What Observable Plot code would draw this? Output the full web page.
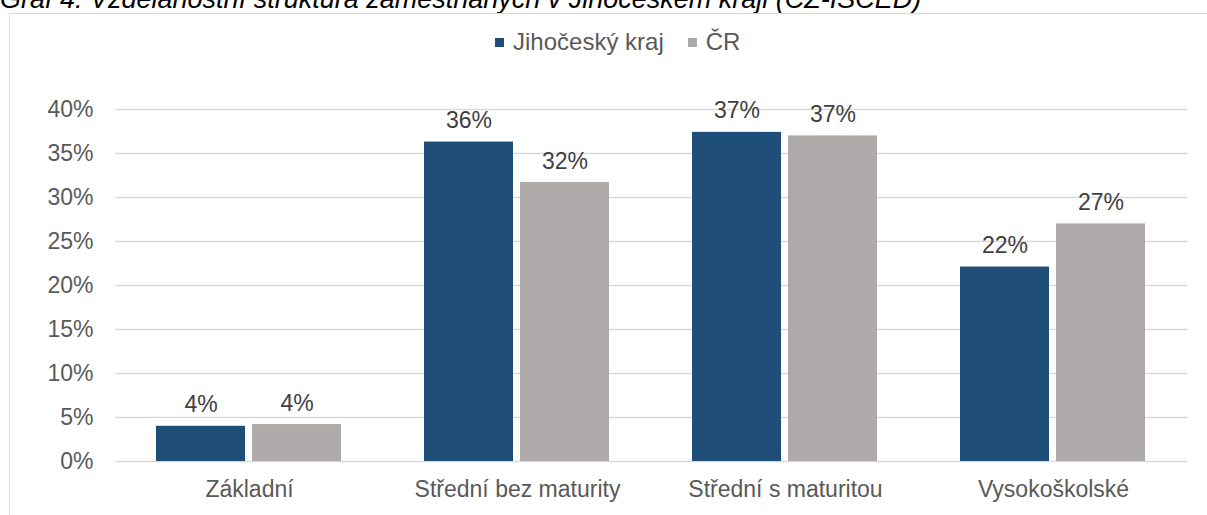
<!DOCTYPE html>
<html><head><meta charset="utf-8">
<script src="https://cdn.jsdelivr.net/npm/d3@7"></script>
<script src="https://cdn.jsdelivr.net/npm/@observablehq/plot@0.6"></script>
<style>
html,body{margin:0;padding:0;width:1207px;height:515px;overflow:hidden;background:#fff;font-family:"Liberation Sans",Arial,sans-serif;}
#title{position:absolute;left:0;top:-14px;font-size:27px;font-style:italic;color:#000;white-space:nowrap;line-height:27px;}
#box{position:absolute;left:9px;top:13px;width:1230px;height:530px;border:1px solid #d9d9d9;box-sizing:border-box}
#legend{position:absolute;left:495px;top:29px;font-size:24px;color:#595959;display:flex;align-items:center;line-height:26px;white-space:nowrap}
.sw{display:inline-block;width:9px;height:9px;margin-right:9px}
.item{display:flex;align-items:center;margin-right:24px}
#chart{position:absolute;left:0;top:0}
</style></head><body>
<div id="title">Graf 4: Vzdělanostní struktura zaměstnaných v Jihočeském kraji (CZ-ISCED)</div>
<div id="box"></div>
<div id="legend"></div>
<div id="chart"></div>
<script>
const categories = ["Základní", "Střední bez maturity", "Střední s maturitou", "Vysokoškolské"];
const series = ["Jihočeský kraj", "ČR"];
const jihocesky = [4.0, 36.3, 37.4, 22.1];
const cr = [4.2, 31.7, 37.0, 27.0];
const yTicks = [0, 5, 10, 15, 20, 25, 30, 35, 40];
const colors = ["#1f4e79", "#aeaaaa"];

const data = categories.flatMap((c, i) => [
  {cat: c, s: series[0], v: jihocesky[i]},
  {cat: c, s: series[1], v: cr[i]}
]);

const legend = document.getElementById("legend");
series.forEach((s, i) => {
  const it = document.createElement("span");
  it.className = "item";
  it.innerHTML = `<span class="sw" style="background:${colors[i]}"></span>${s}`;
  legend.appendChild(it);
});

const chart = Plot.plot({
  width: 1207, height: 515,
  marginLeft: 113, marginRight: 19, marginTop: 109, marginBottom: 54,
  style: {fontFamily: "Liberation Sans, Arial, sans-serif", fontSize: "23px", color: "#595959", background: "transparent", overflow: "visible"},
  fx: {domain: categories, padding: 0, label: null, axis: "bottom", tickSize: 0, tickPadding: 19},
  x: {domain: series, axis: null, paddingInner: 0.072, paddingOuter: 0.4226},
  y: {domain: [0, 40], ticks: yTicks, tickFormat: d => d + "%", label: null, tickSize: 0, tickPadding: 22},
  color: {domain: series, range: colors},
  marks: [
    Plot.ruleY(yTicks, {stroke: "#d9d9d9", strokeWidth: 1.3}),
    Plot.barY(data, {fx: "cat", x: "s", y: "v", fill: "s"}),
    Plot.text(data, {fx: "cat", x: "s", y: "v", text: d => Math.round(d.v) + "%", dy: -14, lineAnchor: "bottom", fill: "#404040", fontSize: 23})
  ]
});
document.getElementById("chart").appendChild(chart);
</script>
</body></html>
